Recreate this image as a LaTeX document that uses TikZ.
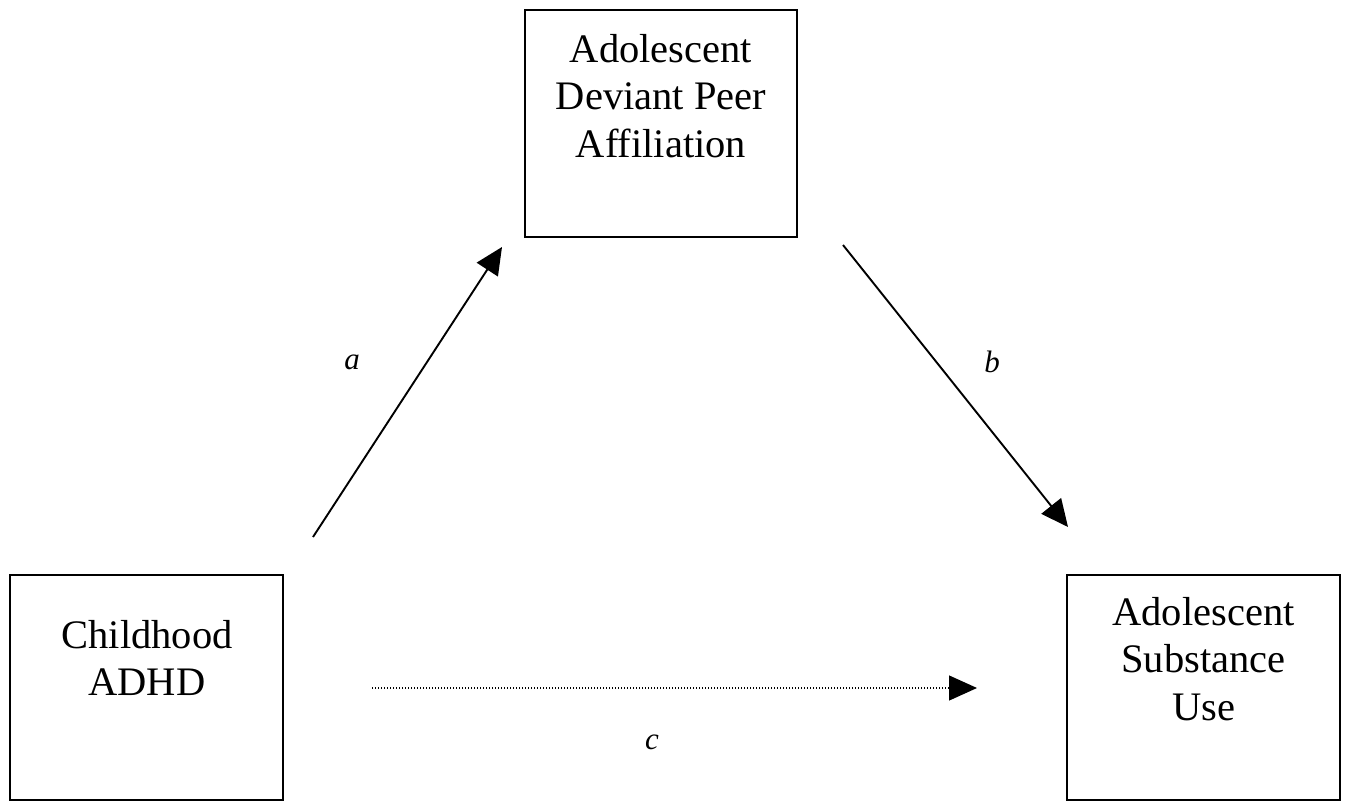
\documentclass[tikz,border=0pt]{standalone}
\usepackage{fontspec}
\setmainfont{Liberation Serif}
\usetikzlibrary{arrows.meta}
\begin{document}
\begin{tikzpicture}[x=1pt,y=-1pt,
  box/.style={draw, line width=2pt, minimum width=#1, minimum height=225pt, inner sep=0pt},
  boxtext/.style={anchor=north, inner sep=0pt, align=center, font=\fontsize{40.5}{47.5}\selectfont},
  lbl/.style={inner sep=0pt, font=\fontsize{31}{36}\selectfont\itshape},
  solidarrow/.style={line width=1.9pt, -{Triangle[length=27pt,width=25pt]}},
  dotarrow/.style={line width=1.3pt, dash pattern=on 1.3pt off 1.7pt, -{Triangle[length=28pt,width=25pt]}}
]
\useasboundingbox (0,0) rectangle (1346,802);
% boxes
\node[box=272pt, minimum height=227pt] (med) at (661,123.5) {};
\node[box=273pt] (x) at (146.5,687.5) {};
\node[box=273pt] (y) at (1203.5,687.5) {};
% box texts
\node[boxtext] (medt) at (661,34) {Adolescent\\Deviant Peer\\Affiliation};
\node[boxtext] (xt) at (147,620) {Childhood\\ADHD};
\node[boxtext] (yt) at (1203.5,597) {Adolescent\\Substance\\Use};
% connector ends
\coordinate (aS) at (313,537);
\coordinate (aE) at (502,247);
\coordinate (bS) at (843,245);
\coordinate (bE) at (1068,527);
\coordinate (cS) at (372,688);
\coordinate (cE) at (977,688);
\draw[solidarrow] (aS) -- (aE);
\draw[solidarrow] (bS) -- (bE);
\draw[dotarrow] (cS) -- (cE);
% labels
\node[lbl] (la) at (352,362) {a};
\node[lbl] (lb) at (992,362) {b};
\node[lbl] (lc) at (652,742) {c};
\end{tikzpicture}
\end{document}
